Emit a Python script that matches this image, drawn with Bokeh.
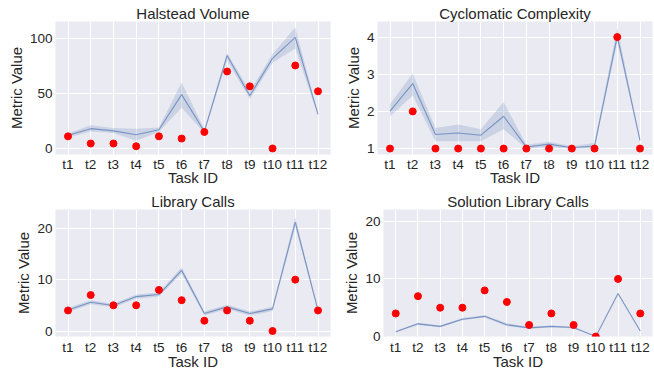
from bokeh.plotting import figure
from bokeh.layouts import column, row
from bokeh.models import FixedTicker, Range1d, ColumnDataSource
from bokeh.embed import file_html
from bokeh.resources import INLINE

tasks = ["t1", "t2", "t3", "t4", "t5", "t6", "t7", "t8", "t9", "t10", "t11", "t12"]

hv_mean = [12, 18, 16, 12.5, 17, 49, 15.5, 84.5, 48, 82, 101, 31]
hv_lo = [10, 15.5, 14, 7, 15, 37, 14, 80, 45, 78, 91, 30]
hv_hi = [13.5, 21, 18.5, 18, 19, 60, 17.5, 87, 52, 86, 110, 32]
hv_obs = [11, 4.5, 4.5, 2, 11, 9, 15, 70, 56.5, 0, 75.5, 52]

cc_mean = [2.01, 2.75, 1.38, 1.42, 1.36, 1.87, 1.04, 1.12, 1.02, 1.07, 4.02, 1.22]
cc_lo = [1.86, 2.43, 1.2, 1.2, 1.2, 1.52, 1.0, 1.04, 1.0, 1.0, 3.88, 1.18]
cc_hi = [2.2, 3.02, 1.55, 1.65, 1.52, 2.25, 1.1, 1.18, 1.06, 1.15, 4.25, 1.26]
cc_obs = [1, 2, 1, 1, 1, 1, 1, 1, 1, 1, 4, 1]

lc_mean = [4.1, 5.6, 4.95, 6.7, 7.1, 11.8, 3.4, 4.7, 3.4, 4.3, 21.2, 4.0]
lc_lo = [3.7, 5.2, 4.6, 6.3, 6.7, 11.2, 3.0, 4.3, 3.0, 3.9, 20.3, 3.7]
lc_hi = [4.5, 6.0, 5.3, 7.1, 7.5, 12.4, 3.8, 5.1, 3.8, 4.7, 22.1, 4.3]
lc_obs = [4, 7, 5, 5, 8, 6, 2, 4, 2, 0, 10, 4]

sl_mean = [0.83, 2.2, 1.76, 3.0, 3.5, 2.05, 1.5, 1.76, 1.55, 0.0, 7.45, 0.95]
sl_lo = [0.7, 2.0, 1.6, 2.8, 3.3, 1.8, 1.35, 1.6, 1.4, 0.0, 7.3, 0.85]
sl_hi = [0.95, 2.4, 1.9, 3.2, 3.7, 2.3, 1.65, 1.9, 1.7, 0.05, 7.6, 1.05]
sl_obs = [4, 7, 5, 5, 8, 6, 2, 4, 2, 0, 10, 4]

titles = ["Halstead Volume", "Cyclomatic Complexity", "Library Calls", "Solution Library Calls"]
y_ticks = [[0, 50, 100], [1, 2, 3, 4], [0, 10, 20], [0, 10, 20]]
y_ranges = [(-5.5, 115.5), (0.84, 4.42), (-1.07, 23.65), (0, 22.05)]

FONT = "Liberation Sans"
TXT = "#262626"
BLUE = "#4C72B0"


def panel(title, mean, lo, hi, obs, yt, yr, left_col, top_row):
    w = 340 if left_col else 314
    h = 190 if top_row else 182
    p = figure(width=w, height=h, output_backend="svg", toolbar_location=None,
               x_range=Range1d(-0.55, 11.55), y_range=Range1d(*yr),
               min_border_left=55 if left_col else 37,
               min_border_right=10 if left_col else 2,
               min_border_top=21 if top_row else 18,
               min_border_bottom=36 if top_row else 31,
               background_fill_color="#EAEAF2", border_fill_color="white")
    p.outline_line_color = None
    p.title.text = title
    p.title.align = "center"
    p.title.text_font = FONT
    p.title.text_font_size = "15px"
    p.title.text_font_style = "normal"
    p.title.text_color = TXT
    p.title.standoff = 0

    xs = list(range(len(tasks)))
    src = ColumnDataSource(dict(x=xs, mean=mean, lo=lo, hi=hi, obs=obs))
    p.varea(x="x", y1="lo", y2="hi", source=src, fill_color=BLUE, fill_alpha=0.2)
    p.line(x="x", y="mean", source=src, line_color=BLUE, line_alpha=0.65, line_width=1.1)
    p.scatter(x="x", y="obs", source=src, color="red", size=7)

    p.xaxis.ticker = FixedTicker(ticks=xs)
    p.xaxis.major_label_overrides = {i: t for i, t in enumerate(tasks)}
    p.yaxis.ticker = FixedTicker(ticks=yt)
    for ax in (p.xaxis[0], p.yaxis[0]):
        ax.axis_line_color = None
        ax.major_tick_line_color = None
        ax.minor_tick_line_color = None
        ax.major_tick_out = 0
        ax.major_tick_in = 0
        ax.major_label_text_font = FONT
        ax.major_label_text_font_size = "13.5px"
        ax.major_label_text_color = TXT
        ax.axis_label_text_font = FONT
        ax.axis_label_text_font_size = "15px"
        ax.axis_label_text_font_style = "normal"
        ax.axis_label_text_color = TXT
    p.xaxis.major_label_standoff = 2 if top_row else 3
    p.xaxis.axis_label = "Task ID"
    p.xaxis.axis_label_standoff = -6 if top_row else -5
    p.yaxis.major_label_standoff = 3
    p.yaxis.axis_label = "Metric Value"
    p.yaxis.axis_label_standoff = 2
    p.grid.grid_line_color = "white"
    p.grid.grid_line_width = 1
    p.xgrid.ticker = FixedTicker(ticks=xs)
    p.ygrid.ticker = FixedTicker(ticks=yt)
    return p


p1 = panel(titles[0], hv_mean, hv_lo, hv_hi, hv_obs, y_ticks[0], y_ranges[0], True, True)
p2 = panel(titles[1], cc_mean, cc_lo, cc_hi, cc_obs, y_ticks[1], y_ranges[1], False, True)
p3 = panel(titles[2], lc_mean, lc_lo, lc_hi, lc_obs, y_ticks[2], y_ranges[2], True, False)
p4 = panel(titles[3], sl_mean, sl_lo, sl_hi, sl_obs, y_ticks[3], y_ranges[3], False, False)

layout = column(row(p1, p2), row(p3, p4))
open("out.html", "w").write(file_html(layout, INLINE))
